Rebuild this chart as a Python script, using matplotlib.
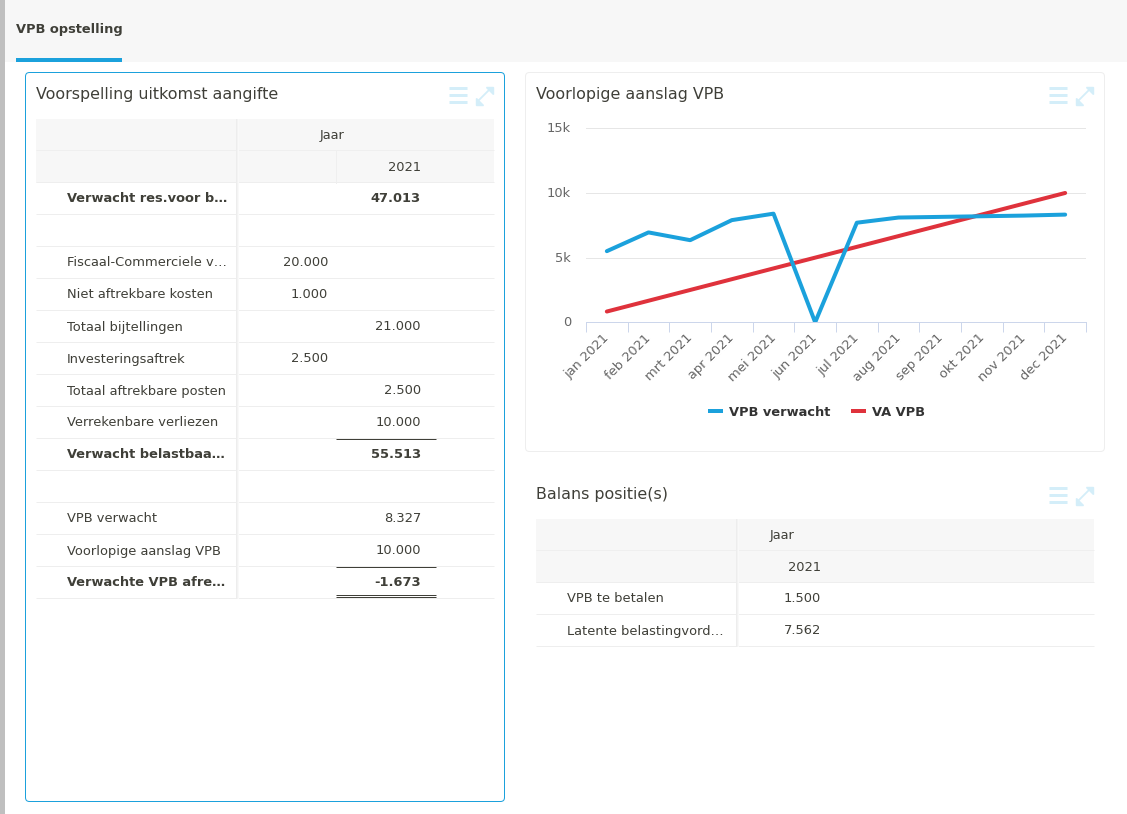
import matplotlib
matplotlib.use("Agg")
import matplotlib.pyplot as plt
from matplotlib.patches import FancyBboxPatch, Rectangle
from matplotlib.transforms import ScaledTranslation
import numpy as np

months = ["jan 2021", "feb 2021", "mrt 2021", "apr 2021", "mei 2021", "jun 2021",
          "jul 2021", "aug 2021", "sep 2021", "okt 2021", "nov 2021", "dec 2021"]
vpb_verwacht = [5500, 6950, 6350, 7900, 8400, 0, 7700, 8100, 8150, 8200, 8250, 8327]
va_vpb = [833, 1667, 2500, 3333, 4167, 5000, 5833, 6667, 7500, 8333, 9167, 10000]
y_ticks = [0, 5000, 10000, 15000]
y_labels = ["0", "5k", "10k", "15k"]

forecast_labels = ["Verwacht res.voor b…", "", "Fiscaal-Commerciele v…", "Niet aftrekbare kosten",
                   "Totaal bijtellingen", "Investeringsaftrek", "Totaal aftrekbare posten",
                   "Verrekenbare verliezen", "Verwacht belastbaa…", "", "VPB verwacht",
                   "Voorlopige aanslag VPB", "Verwachte VPB afre…"]
forecast_col1 = ["", "", "20.000", "1.000", "", "2.500", "", "", "", "", "", "", ""]
forecast_col2 = ["47.013", "", "", "", "21.000", "", "2.500", "10.000", "55.513", "", "8.327",
                 "10.000", "-1.673"]
forecast_bold = [0, 8, 12]

balance_labels = ["VPB te betalen", "Latente belastingvord…"]
balance_values = ["1.500", "7.562"]

plt.rcParams["font.family"] = ["DejaVu Sans"]
W, H = 1127, 814
px = 72 / 100
fig = plt.figure(figsize=(W / 100, H / 100), dpi=100, facecolor="white")
bg = fig.add_axes([0, 0, 1, 1])
bg.set_xlim(0, W)
bg.set_ylim(H, 0)
bg.axis("off")

TEXT = "#3f3f38"
BLUE = "#1ba1dc"
HEAD = "#f7f7f7"
LINE = "#eeeeee"
ICON = "#d4eef9"


def rect(x0, y0, x1, y1, color, z=1):
    bg.add_patch(Rectangle((x0, y0), x1 - x0, y1 - y0, fc=color, ec="none", zorder=z))


def hline(x0, x1, y, color=LINE, lw=1.0, z=2):
    bg.plot([x0, x1], [y, y], color=color, lw=lw * px, solid_capstyle="butt", zorder=z)


def txt(x, y, s, size=13, weight="normal", ha="left", color=TEXT):
    bg.text(x, y, s, fontsize=size * px, fontweight=weight, ha=ha, va="center_baseline",
            color=color, zorder=5)


def panel(x0, y0, x1, y1, edge):
    bg.add_patch(FancyBboxPatch((x0, y0), x1 - x0, y1 - y0, boxstyle="round,pad=0,rounding_size=4",
                                fc="white", ec=edge, lw=1 * px, zorder=1))


def icons(xh, xa, y):
    for dy in (0, 6.7, 13.4):
        bg.plot([xh, xh + 18], [y + dy + 0.3, y + dy + 0.3], color=ICON, lw=3 * px,
                solid_capstyle="butt", zorder=3)
    bg.plot([xa + 3, xa + 15], [y + 13, y + 1], color=ICON, lw=1.8 * px, zorder=3)
    for pts in ([(xa + 11, y - 1), (xa + 18, y - 1), (xa + 18, y + 6)],
                [(xa + 0.5, y + 10), (xa + 0.5, y + 17), (xa + 7.5, y + 17)]):
        bg.fill(*zip(*pts), color=ICON, zorder=3)


def divider(x, y0, y1):
    rect(x, y0, x + 1, y1, "#ededed", z=3)
    rect(x + 1, y0, x + 2, y1, "#f3f3f3", z=3)
    rect(x + 2, y0, x + 3, y1, "#f9f9f9", z=3)


# Page frame
rect(0, 0, W, 62, HEAD)
rect(0, 0, 5, H, "#bfbfbf", z=4)
rect(16, 58, 122, 62, BLUE, z=2)
txt(16, 28, "VPB opstelling", size=13, weight="bold")

# Panels
panel(25.5, 72.5, 504.5, 801.5, BLUE)
panel(525.5, 72.5, 1104.5, 451.5, "#eeeeee")
txt(36, 93, "Voorspelling uitkomst aangifte", size=15.9)
txt(536, 93, "Voorlopige aanslag VPB", size=15.9)
txt(536, 493, "Balans positie(s)", size=15.9)
icons(449, 475, 88)
icons(1049, 1075, 88)
icons(1049, 1075, 488)

# Forecast table
rect(36, 119, 494, 183, HEAD, z=2)
hline(36, 494, 150, "#efefef")
bg.plot([335.5, 335.5], [151, 183], color="#efefef", lw=1 * px, zorder=3)
txt(332.5, 134, "Jaar", ha="center")
txt(421, 166, "2021", ha="right")
for i, (label, c1, c2) in enumerate(zip(forecast_labels, forecast_col1, forecast_col2)):
    top = 183 + 32 * i
    hline(36, 494, top + 31)
    w = "bold" if i in forecast_bold else "normal"
    txt(67, top + 14.5, label, weight=w)
    txt(328, top + 14.5, c1, ha="right", weight=w)
    txt(421, top + 14.5, c2, ha="right", weight=w)
hline(36, 494, 182)
divider(236, 119, 599)
hline(336, 436, 439, TEXT, z=4)
hline(336, 436, 567, TEXT, z=4)
hline(336, 436, 595, TEXT, z=4)
hline(336, 436, 597, TEXT, z=4)

# Balance table
rect(536, 519, 1094, 583, HEAD, z=2)
hline(536, 1094, 550, "#efefef")
hline(536, 1094, 582)
txt(782, 534, "Jaar", ha="center")
txt(821, 566, "2021", ha="right")
for i, (label, v) in enumerate(zip(balance_labels, balance_values)):
    top = 583 + 32 * i
    hline(536, 1094, top + 31)
    txt(567, top + 14.5, label)
    txt(821, top + 14.5, v, ha="right")
divider(736, 519, 647)

# Line chart
L, R, T, B = 586, 1086, 128.3, 322.3
ax = fig.add_axes([L / W, 1 - B / H, (R - L) / W, (B - T) / H], facecolor="none")
x = np.arange(len(months))
ax.plot(x, vpb_verwacht, color=BLUE, lw=4 * px, solid_capstyle="round", solid_joinstyle="round",
        label="VPB verwacht", zorder=4)
ax.plot(x, va_vpb, color="#df323c", lw=4 * px, solid_capstyle="round", solid_joinstyle="round",
        label="VA VPB", zorder=3)
ax.set_xlim(-0.5, len(months) - 0.5)
ax.set_ylim(0, 15000)
ax.set_yticks(y_ticks, y_labels, fontsize=13 * px, color="#666666")
ax.tick_params(axis="y", length=0, pad=15 * px)
ax.grid(axis="y", color="#e6e6e6", lw=1 * px)
ax.set_axisbelow(True)
ax.set_xticks(x, months, fontsize=13 * px, color="#666666", rotation=45, ha="right",
              rotation_mode="anchor")
ax.set_xticks(np.arange(len(months) + 1) - 0.5, minor=True)
ax.tick_params(axis="x", which="major", length=0, pad=10 * px)
ax.tick_params(axis="x", which="minor", length=10 * px, width=1 * px, color="#ccd6eb")
shift_x = ScaledTranslation(-4 / 100, 1 / 100, fig.dpi_scale_trans)
for lab in ax.get_xticklabels():
    lab.set_transform(lab.get_transform() + shift_x)
shift_y = ScaledTranslation(0, 1 / 100, fig.dpi_scale_trans)
for lab in ax.get_yticklabels():
    lab.set_transform(lab.get_transform() + shift_y)
for s in ("top", "left", "right"):
    ax.spines[s].set_visible(False)
ax.spines["bottom"].set_color("#ccd6eb")
ax.spines["bottom"].set_linewidth(1 * px)

leg = ax.legend(loc="center", bbox_to_anchor=(816.5 / W, 1 - 412.5 / H), bbox_transform=fig.transFigure,
                ncols=2, frameon=False, handlelength=1.15, handletextpad=0.5, columnspacing=1.55,
                prop={"size": 13 * px, "weight": "bold"}, labelcolor="#333333")
for h in leg.get_lines():
    h.set_solid_capstyle("butt")

fig.savefig("out.png", dpi=100, facecolor="white")
